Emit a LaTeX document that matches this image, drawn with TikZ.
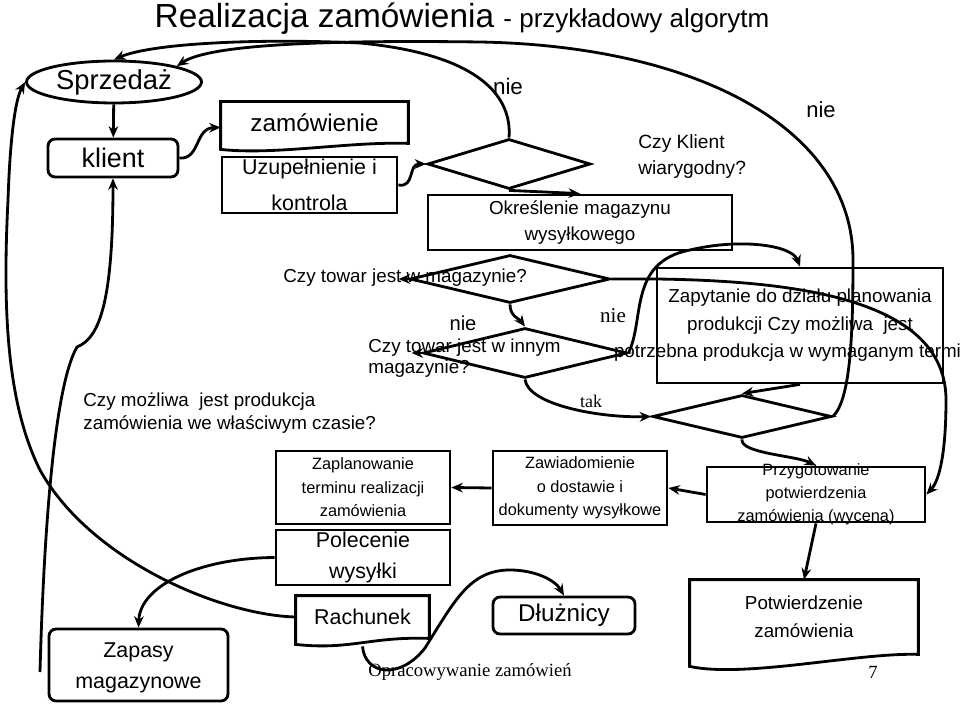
\documentclass[tikz,border=0pt]{standalone}
\usepackage{fontspec}
\setmainfont{Liberation Sans}
\newfontfamily\seriffont{Liberation Serif}
\usetikzlibrary{positioning,shapes.geometric,arrows.meta,calc}

\begin{document}
\begin{tikzpicture}[x=0.02cm,y=-0.02cm,line width=1.6pt,
  arr/.style={-{Stealth[length=6.5pt,width=5.5pt]}},
  box/.style={draw,inner sep=0pt,align=center},
  rbox/.style={box,rounded corners=4pt},
  doc/.style={inner sep=0pt,align=center},
  dia/.style={draw,diamond,inner sep=0pt},
  qtext/.style={anchor=west,align=left,inner sep=0pt},
  fs/.style 2 args={font=\fontsize{#1}{#2}\selectfont}]
\useasboundingbox (0,0) rectangle (960,705);
\clip (0,0) rectangle (960,705);
\node at(462,19)(title){\fontsize{19}{21}\selectfont Realizacja zamówienia \fontsize{14.8}{18}\selectfont- przykładowy algorytm};
\node at(114,82)[draw,ellipse,inner sep=0pt,minimum width=3.5cm,minimum height=0.84cm,fs={15.6}{18}](spr){Sprzedaż};
\node at(113,158)[rbox,minimum width=2.6cm,minimum height=0.76cm,fs={15.3}{18}](kl){klient};
\node at(314.5,122.5)[doc,minimum width=3.7cm,minimum height=0.78cm,fs={13.8}{16}](zam){zamówienie};
\node at(309.5,185)[box,minimum width=3.5cm,minimum height=1.12cm,fs={12.2}{20.4}](uzu){Uzupełnienie i\\kontrola};
\node at(509,164)[dia,minimum width=3.26cm,minimum height=1cm](d1){};
\node at(637,156.5)[qtext,fs={10.9}{15.3}](q1){Czy Klient\\wiarygodny?};
\node at(580,222.5)[box,minimum width=6.08cm,minimum height=1.1cm,fs={10.7}{15.3}](okr){Określenie magazynu\\wysyłkowego};
\node at(510,279)[dia,minimum width=4cm,minimum height=0.96cm](d2){};
\node at(282,278)[qtext,fs={10.7}{13}](q2){Czy towar jest w magazynie?};
\node at(525,353)[dia,minimum width=4.08cm,minimum height=1cm](d3){};
\node at(367,358)[qtext,fs={10.7}{12.2}](q3){Czy towar jest w innym\\magazynie?};
\node at(82,413)[qtext,fs={10.7}{12.8}](q4){Czy możliwa~ jest produkcja\\zamówienia we właściwym czasie?};
\node at(742,416.5)[dia,minimum width=3.58cm,minimum height=0.86cm](d4){};
\node at(800,325.5)[box,minimum width=5.72cm,minimum height=2.3cm](zap){};
\node at(zap)[align=center,fs={10.7}{15.6}](zaptxt){Zapytanie do działu planowania\\produkcji Czy możliwa~ jest\\potrzebna produkcja w wymaganym terminie};
\node at(816,494.5)[box,minimum width=4.36cm,minimum height=1.1cm](prz){};
\node at(prz)[align=center,fs={9.3}{13}](prztxt){Przygotowanie\\potwierdzenia\\zamówienia (wycena)};
\node at(580,488)[box,minimum width=3.48cm,minimum height=1.48cm,fs={9.3}{13.3}](zaw){Zawiadomienie\\o dostawie i\\dokumenty wysyłkowe};
\node at(363,487.5)[box,minimum width=3.48cm,minimum height=1.46cm,fs={9.3}{13.3}](zpl){Zaplanowanie\\terminu realizacji\\zamówienia};
\node at(363,557.5)[box,minimum width=3.48cm,minimum height=1.1cm,fs={12.2}{17.6}](pol){Polecenie\\wysyłki};
\node at(362.5,617)[doc,minimum width=2.62cm,minimum height=0.8cm,fs={12.2}{15}](rach){Rachunek};
\node at(138.5,665)[rbox,minimum width=3.58cm,minimum height=1.44cm](zps){};
\node at(138.5,668)[align=center,fs={12.2}{17.6}](zpstxt){Zapasy\\magazynowe};
\node at(564,615.5)[rbox,minimum width=2.84cm,minimum height=0.74cm,fs={13.8}{16}](dl){Dłużnicy};
\node at(804,617)[doc,minimum width=4.52cm,minimum height=1.44cm,fs={10.7}{16}](pot){Potwierdzenie\\zamówienia};
\foreach \n/\d in {zam/6,rach/6,pot/12}
  \draw (\n.north west) -- (\n.north east) -- (\n.south east)
    .. controls +(-60,-2) and +(55,\d) .. ($(\n.south west)+(0,\d)$) -- cycle;
\node at(508,86)[fs={12.8}{15}](nie1){nie};
\node at(821,110)[fs={12.5}{15}](nie2){nie};
\node at(463,323)[fs={11.5}{14}](nie3){nie};
\node at(613,316)[font=\seriffont\fontsize{12}{14}\selectfont](nie4){nie};
\node at(591,401)[font=\seriffont\fontsize{10.2}{12}\selectfont](tak){tak};
\node at(470,672)[font=\seriffont\fontsize{10.6}{13}\selectfont](foot){Opracowywanie zamówień};
\node at(873,672)[font=\seriffont\fontsize{10.6}{13}\selectfont](nr){7};
\coordinate (zs) at (40,672);
\draw[arr] (spr) -- (kl);
\draw[arr] (kl.east) .. controls (200,160) and (195,128) .. ($(zam.west)+(0,5)$);
\draw[arr] (uzu.east) .. controls (415,188) and (408,164) .. (d1.west);
\draw[arr] (d1.south) -- (okr.north);
\draw[arr] (d1.north) .. controls (512,100) and (485,55) .. (360,43) .. controls (250,38) and (150,44) .. (spr.north);
\draw[arr] (d4.east) .. controls (850,400) and (853,340) .. (853,260) .. controls (853,130) and (700,46) .. (480,42) .. controls (330,40) and (210,44) .. (spr.north east);
\draw[arr] (d2.west) -- ++(-10,0);
\draw[arr] (d3.west) -- ++(-10,0);
\draw[arr] (d2.south) .. controls +(0,12) and +(-6,-8) .. (d3.north);
\draw[arr] (d2.east) -- ++(45,0) .. controls (800,281) and (946,300) .. (946,400) .. controls (946,450) and (940,480) .. (prz.east);
\draw[arr] (d3.east) .. controls (645,320) and (628,262) .. (690,250) .. controls (740,238) and (792,245) .. (zap.north);
\draw[arr] (d3.south) .. controls (528,405) and (600,418) .. (d4.west);
\draw[arr] (zap.south) -- (d4.north);
\draw[arr] (d4.south) .. controls +(-2,14) and +(-20,-10) .. (prz.north);
\draw[arr] (prz.west) -- (zaw.east);
\draw[arr] (zaw.west) -- (zpl.east);
\draw[arr] (prz.south) -- (pot.north);
\draw[arr] (pol.west) .. controls (200,558) and (140,585) .. (zps.north);
\draw[arr] (rach.west) .. controls (220,615) and (90,560) .. (40,470) .. controls (5,400) and (3,300) .. (8,200) .. controls (10,140) and (15,100) .. (spr.west);
\draw[arr] (zs) .. controls (43,560) and (52,390) .. (77,347) .. controls (100,338) and (113,300) .. (kl.south);
\draw[arr] ($(rach.south)+(0,8)$) .. controls (365,675) and (400,680) .. (425,648) .. controls (455,600) and (470,570) .. (510,570) .. controls (535,570) and (555,580) .. (dl.north);
\end{tikzpicture}
\end{document}
